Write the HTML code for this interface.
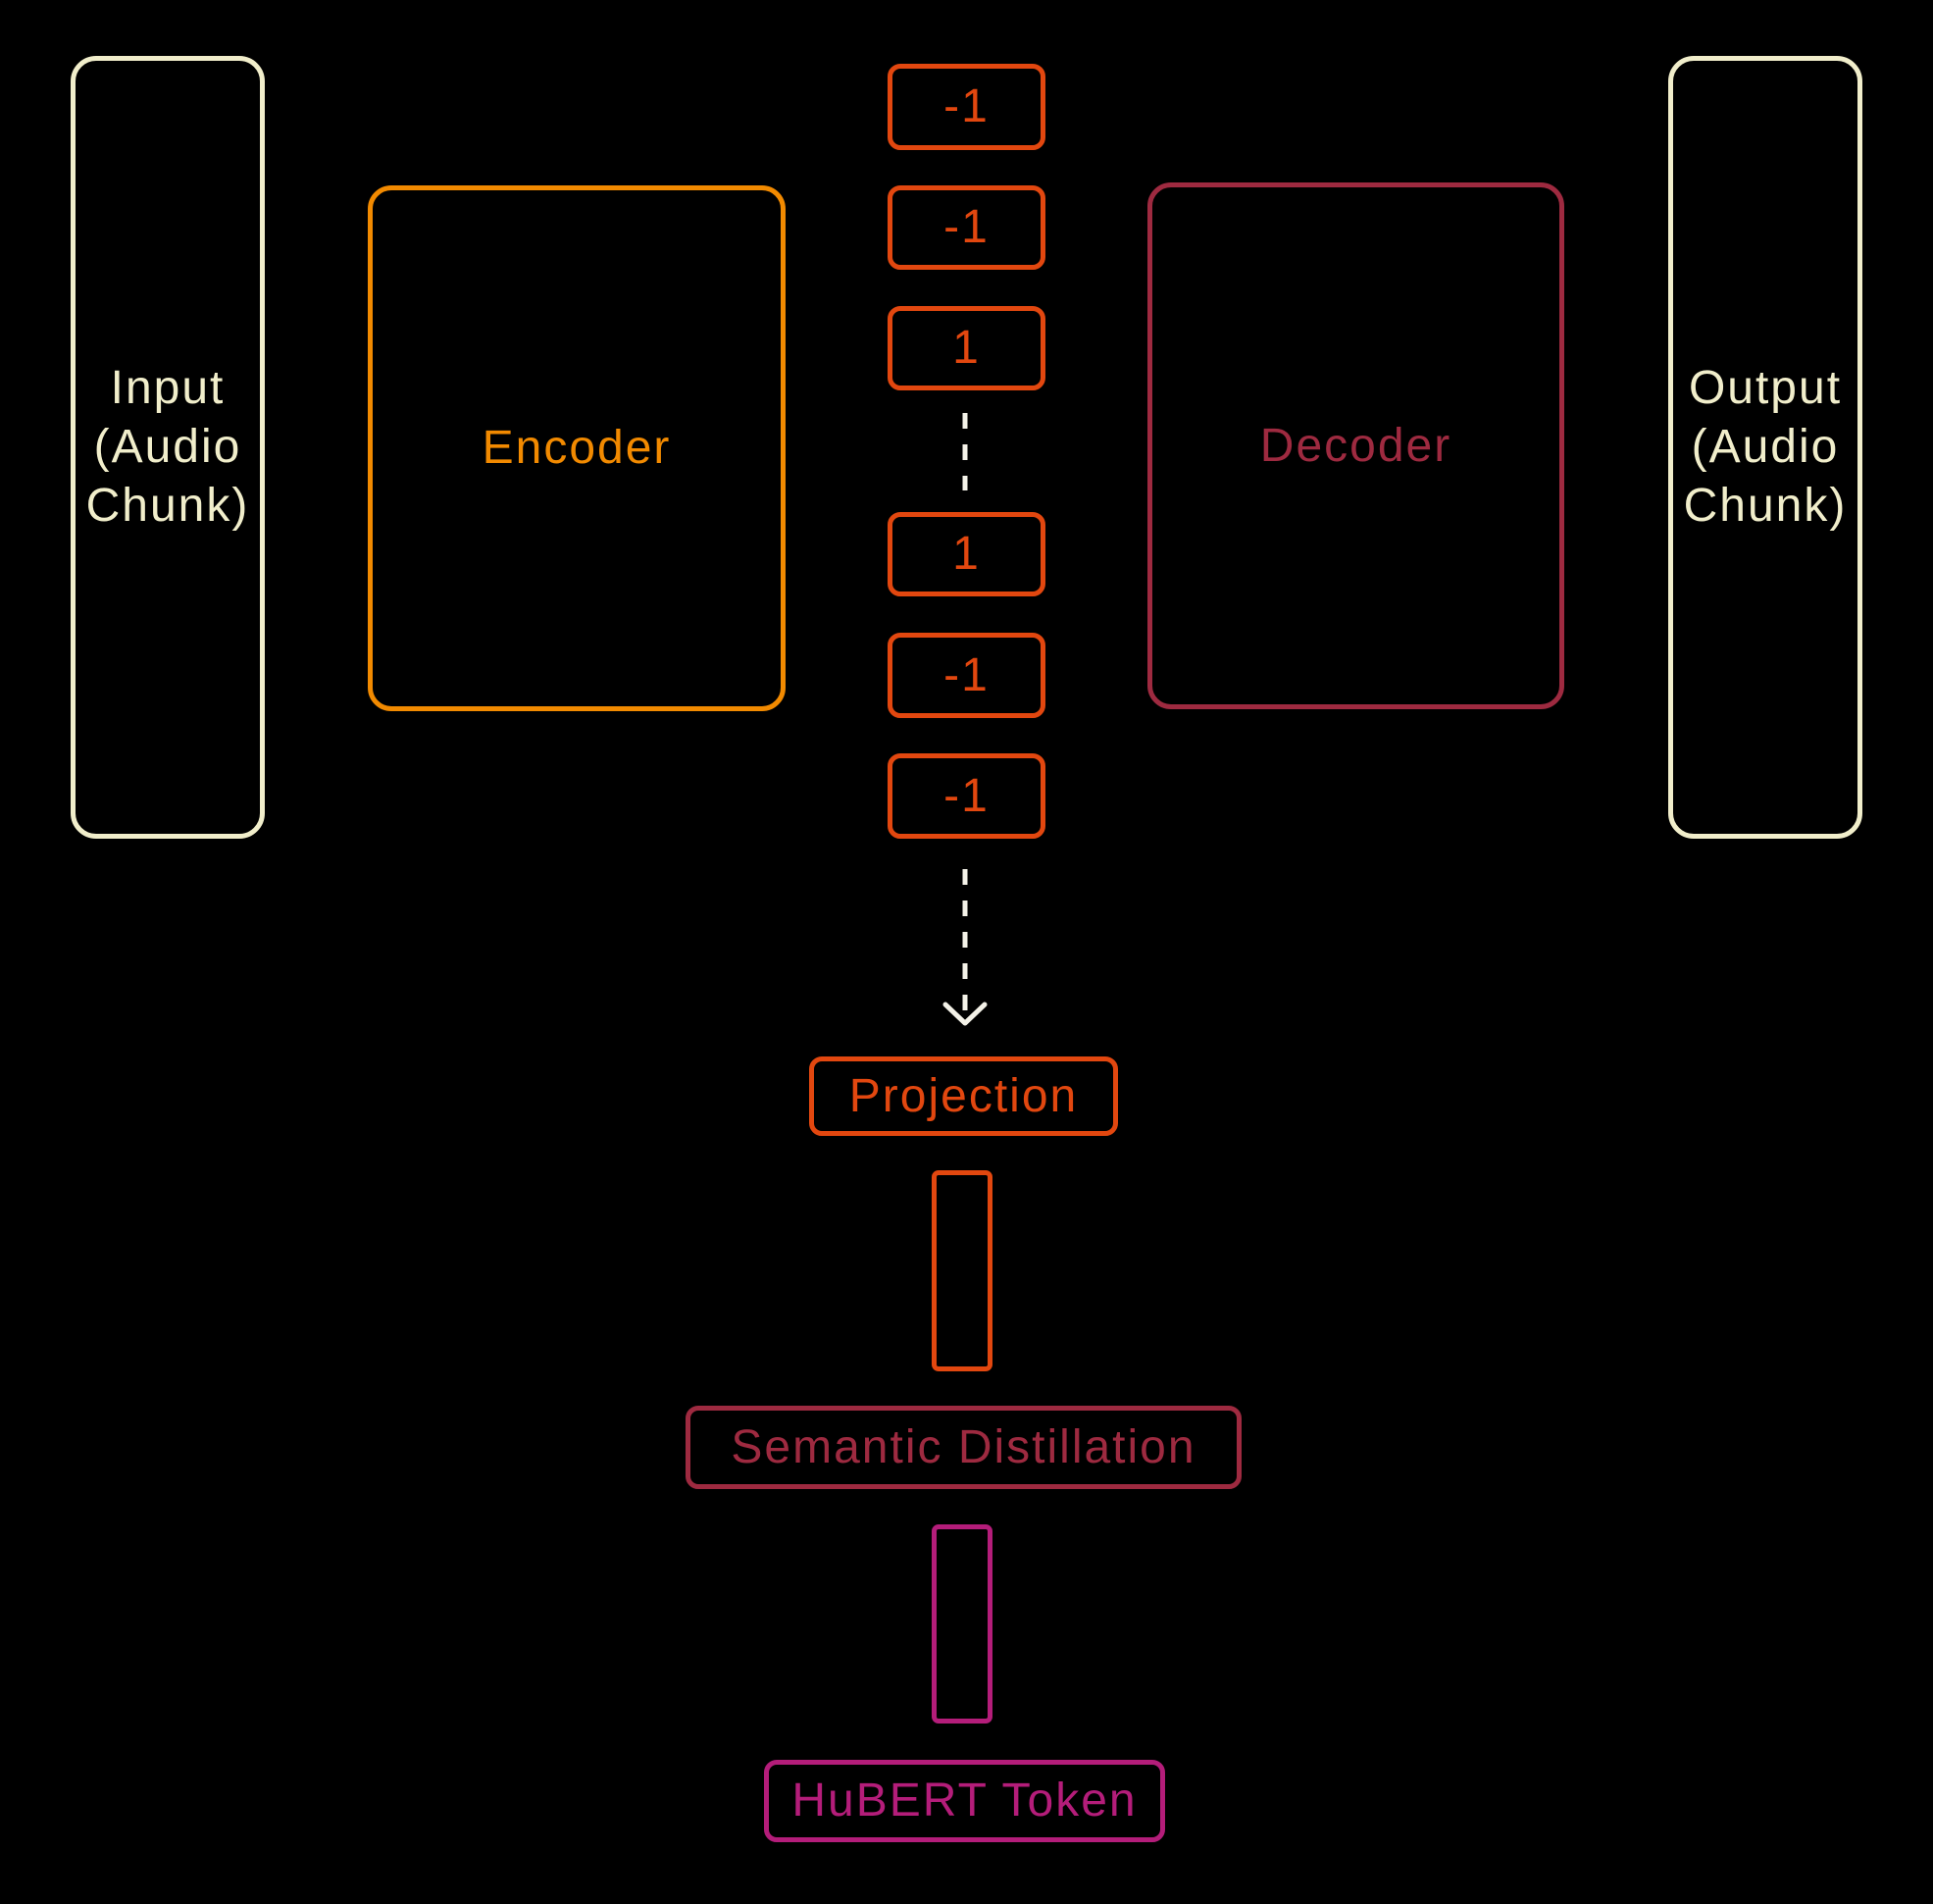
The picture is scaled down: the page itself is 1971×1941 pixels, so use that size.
<!DOCTYPE html>
<html><head><style>
html,body{margin:0;padding:0;background:#000;}
body{width:1971px;height:1941px;position:relative;overflow:hidden;font-family:"Liberation Sans",sans-serif;}
.b{position:absolute;box-sizing:border-box;border-style:solid;display:flex;align-items:center;justify-content:center;text-align:center;font-size:48px;line-height:60px;letter-spacing:2px;}
.cr{border-color:#f1eecb;color:#f1eecb;border-width:5px;border-radius:26px;}
.en{border-color:#f28a00;color:#f28a00;border-width:5px;border-radius:24px;}
.de{border-color:#9e2a40;color:#9e2a40;border-width:5px;border-radius:24px;}
.tk{border-color:#e2470f;color:#e2470f;border-width:5px;border-radius:13px;left:905px;width:161px;}
.sd{border-color:#9e2a40;color:#9e2a40;border-width:5px;border-radius:13px;}
.hu{border-color:#b41d7a;color:#b41d7a;border-width:5px;border-radius:13px;}
</style></head><body>
<div class="b cr" style="left:72px;top:57px;width:198px;height:798px;">Input<br>(Audio<br>Chunk)</div>
<div class="b cr" style="left:1701px;top:57px;width:198px;height:798px;">Output<br>(Audio<br>Chunk)</div>
<div class="b en" style="left:375px;top:189px;width:426px;height:536px;">Encoder</div>
<div class="b de" style="left:1170px;top:186px;width:425px;height:537px;">Decoder</div>
<div class="b tk" style="top:65px;height:88px;">-1</div>
<div class="b tk" style="top:189px;height:86px;">-1</div>
<div class="b tk" style="top:312px;height:86px;">1</div>
<div class="b tk" style="top:522px;height:86px;">1</div>
<div class="b tk" style="top:645px;height:87px;">-1</div>
<div class="b tk" style="top:768px;height:87px;">-1</div>
<svg style="position:absolute;left:0;top:0" width="1971" height="1941">
<line x1="984" y1="421" x2="984" y2="500" stroke="#f4f2e8" stroke-width="5" stroke-dasharray="16 16"/>
<line x1="984" y1="886" x2="984" y2="1040" stroke="#f4f2e8" stroke-width="5" stroke-dasharray="16 16"/>
<polyline points="964,1024 984,1043 1004,1024" fill="none" stroke="#f4f2e8" stroke-width="5" stroke-linecap="round" stroke-linejoin="round"/>
</svg>
<div class="b tk" style="left:825px;top:1077px;width:315px;height:81px;">Projection</div>
<div class="b" style="left:950px;top:1193px;width:62px;height:205px;border-width:5px;border-color:#e2470f;border-radius:7px;"></div>
<div class="b sd" style="left:699px;top:1433px;width:567px;height:85px;">Semantic Distillation</div>
<div class="b" style="left:950px;top:1554px;width:62px;height:203px;border-width:5px;border-color:#b41d7a;border-radius:7px;"></div>
<div class="b hu" style="left:779px;top:1794px;width:409px;height:84px;">HuBERT Token</div>
</body></html>
